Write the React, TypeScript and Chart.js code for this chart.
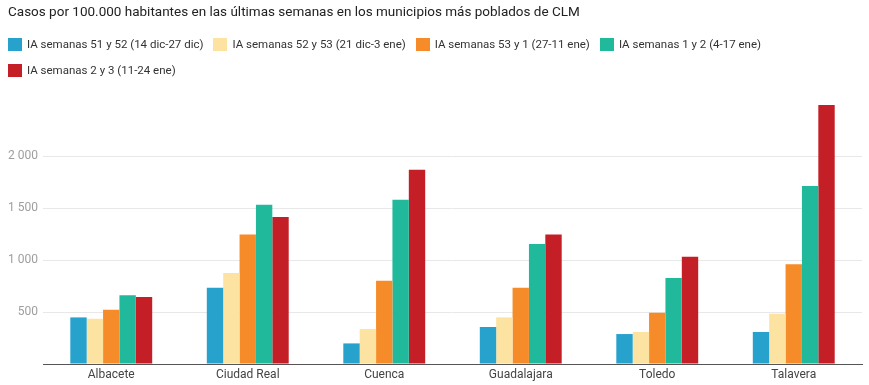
import React, { useEffect, useRef } from "react";
import { Chart, registerables } from "chart.js";

Chart.register(...registerables);

const title = "Casos por 100.000 habitantes en las últimas semanas en los municipios más poblados de CLM";
const categories = ["Albacete", "Ciudad Real", "Cuenca", "Guadalajara", "Toledo", "Talavera"];
const seriesNames = [
  "IA semanas 51 y 52 (14 dic-27 dic)",
  "IA semanas 52 y 53 (21 dic-3 ene)",
  "IA semanas 53 y 1 (27-11 ene)",
  "IA semanas 1 y 2 (4-17 ene)",
  "IA semanas 2 y 3 (11-24 ene)",
];
const seriesColors = ["#27a2cc", "#fde3a1", "#f68c29", "#20b99b", "#c41f26"];
const s1 = [448, 734, 198, 356, 288, 308];
const s2 = [435, 875, 336, 448, 308, 484];
const s3 = [522, 1246, 801, 734, 493, 958];
const s4 = [660, 1532, 1580, 1154, 827, 1711];
const s5 = [644, 1413, 1868, 1246, 1032, 2490];
const seriesValues = [s1, s2, s3, s4, s5];
const yTicks = [0, 500, 1000, 1500, 2000];
const legendRowBreakAfter = 3;

const FONT = "Roboto, 'Noto Sans', sans-serif";

export default function App() {
  const ref = useRef<HTMLCanvasElement | null>(null);

  useEffect(() => {
    if (!ref.current) return;
    const chart = new Chart(ref.current, {
      type: "bar",
      data: {
        labels: categories,
        datasets: seriesNames.map((n, i) => ({
          label: n,
          data: seriesValues[i],
          backgroundColor: seriesColors[i],
          borderWidth: 0,
          categoryPercentage: 0.6,
          barPercentage: 1.0,
        })),
      },
      options: {
        responsive: false,
        animation: false,
        layout: { padding: { top: 104, left: 0, right: 7, bottom: 0 } },
        plugins: {
          legend: { display: false },
          title: { display: false },
          tooltip: { enabled: false },
        },
        scales: {
          x: {
            grid: { display: false, drawTicks: false },
            border: { display: true, color: "#555555", width: 1 },
            ticks: { color: "#444444", font: { family: FONT, size: 12 }, padding: 4 },
            afterFit: (s: any) => { s.height = 21; },
          },
          y: {
            min: 0,
            max: 2500,
            grid: {
              color: (c: any) => (c.tick && c.tick.value === 0 ? "rgba(0,0,0,0)" : "#e8e8e8"),
              drawTicks: false,
            },
            border: { display: false },
            afterBuildTicks: (s: any) => { s.ticks = yTicks.map((v) => ({ value: v })); },
            afterFit: (s: any) => { s.width = 43; },
            ticks: {
              color: "#9e9e9e",
              font: { family: FONT, size: 12 },
              padding: 5,
              callback: (v: any) => (v === 0 ? "" : String(v).replace(/\B(?=(\d{3})+(?!\d))/g, " ")),
            },
          },
        },
      },
    });
    return () => chart.destroy();
  }, []);

  return (
    <div style={{ position: "fixed", left: 0, top: 0, width: 869, height: 385, background: "#fff", fontFamily: FONT }}>
      <canvas ref={ref} width={869} height={385} style={{ position: "absolute", left: 0, top: 0 }} />
      <div style={{ position: "absolute", left: 8, top: 3, fontSize: 13.5, color: "#222", whiteSpace: "nowrap" }}>{title}</div>
      <div style={{ position: "absolute", left: 8, top: 36, width: 850, display: "flex", flexWrap: "wrap", rowGap: 5 }}>
        {seriesNames.map((n, i) => (
          <React.Fragment key={n}>
            <div style={{ display: "flex", alignItems: "center", marginRight: 10, height: 16, fontSize: 11.5, color: "#333", whiteSpace: "nowrap" }}>
              <span style={{ width: 14, height: 13, background: seriesColors[i], display: "inline-block", marginRight: 5 }} />
              <span>{n}</span>
            </div>
            {i === legendRowBreakAfter ? <div style={{ flexBasis: "100%", height: 0 }} /> : null}
          </React.Fragment>
        ))}
      </div>
    </div>
  );
}
